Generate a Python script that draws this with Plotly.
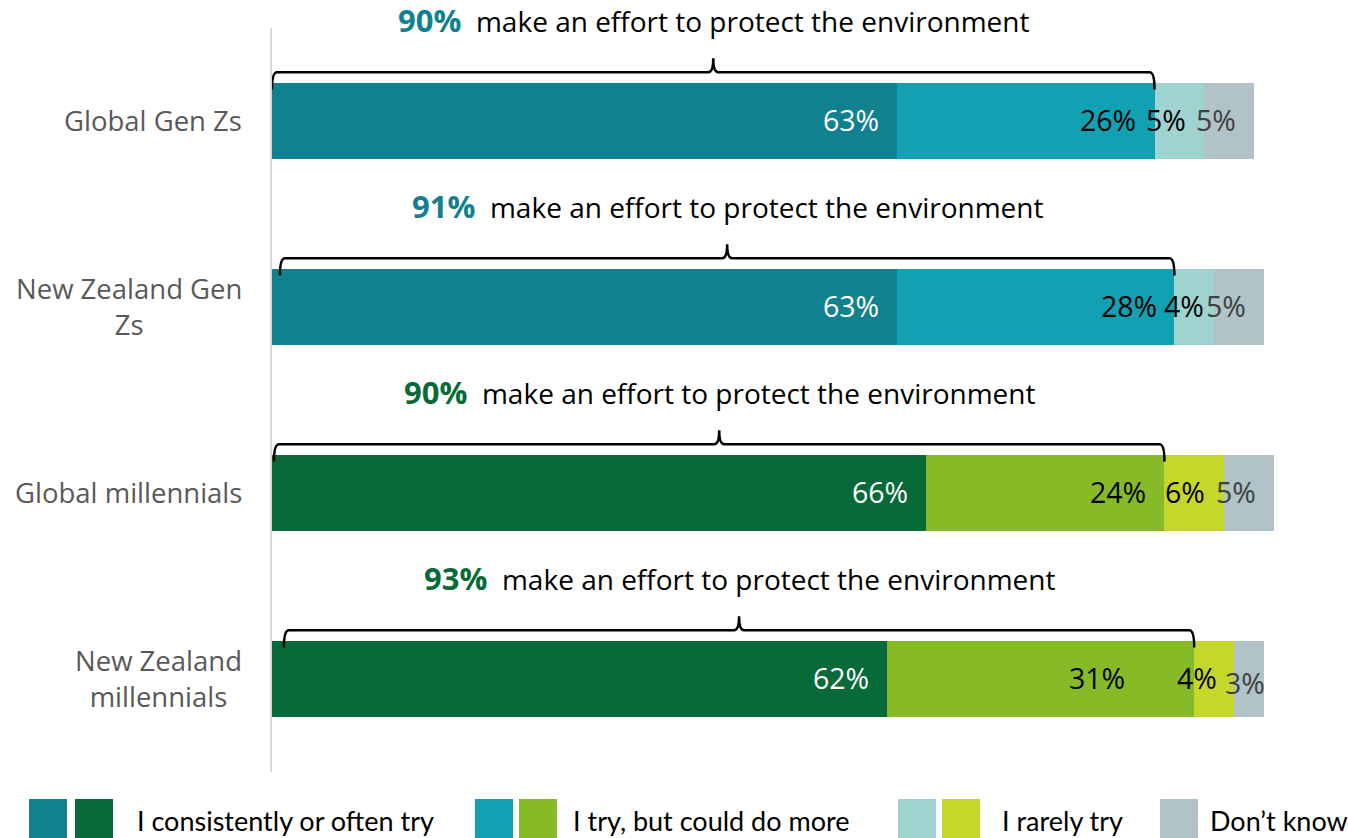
import plotly.graph_objects as go

categories = ["Global Gen Zs", "New Zealand Gen<br>Zs", "Global millennials", "New Zealand<br>millennials"]
consistently = [63, 63, 66, 62]
try_more = [26, 28, 24, 31]
rarely = [5, 4, 6, 4]
dont_know = [5, 5, 5, 3]
effort_totals = [90, 91, 90, 93]
legend_labels = ["I consistently or often try", "I try, but could do more", "I rarely try", "Don\u2019t know"]

# styling
genz_colors = ["#0F818F", "#11A1B2", "#9ED3CF", "#AFC3C8"]
mill_colors = ["#076A38", "#86BB27", "#C5D72B", "#AFC3C8"]
row_is_genz = [True, True, False, False]
label_colors = ["white", "black", "black", "#404040"]
label_xshift = [[-16, -17, -16, -16], [-16, -15, -8, -16], [-16, -16, -17, -16], [-16, -67, -15, 3]]
label_yshift = [[0, 0, 0, 0], [0, 0, 0, 0], [0, 0, 0, 0], [0, 0, 0, -5]]
bracket_start = [0, 0.8, 0.2, 1.2]

W, H = 1348, 838
ML, MR, MT, MB = 272, 10, 28, 66
PW, PH = W - ML - MR, H - MT - MB
XMAX = 107.5

def px2paper_x(px):
    return (px - ML) / PW

def py2paper_y(py):
    return (H - MB - py) / PH

series = [consistently, try_more, rarely, dont_know]
ypos = list(range(len(categories)))

fig = go.Figure()
for j, vals in enumerate(series):
    colors = [(genz_colors if g else mill_colors)[j] for g in row_is_genz]
    fig.add_trace(go.Bar(
        y=ypos, x=vals, orientation="h", width=0.405,
        marker=dict(color=colors, line=dict(width=0)),
        showlegend=False, hoverinfo="x",
    ))

annotations = []
shapes = []
font_main = "Open Sans"
for i in ypos:
    cum = 0
    for j, vals in enumerate(series):
        cum += vals[i]
        annotations.append(dict(
            x=cum, y=i, xref="x", yref="y", text=f"{vals[i]}%", showarrow=False,
            xanchor="right", yanchor="middle", xshift=label_xshift[i][j], yshift=label_yshift[i][j] + 1,
            font=dict(family=font_main, size=28.5, color=label_colors[j]),
        ))
    # category label
    annotations.append(dict(
        x=0, y=i, xref="x domain", yref="y", text=categories[i], showarrow=False,
        xanchor="right", yanchor="middle", align="center", xshift=-28, yshift=1,
        font=dict(family=font_main, size=27.5, color="#595959"),
    ))
    # bracket
    x0 = bracket_start[i]
    x1 = consistently[i] + try_more[i]
    xm = (x0 + x1) / 2
    yb = i - 0.17
    yh = i - 0.262
    yt = i - 0.337
    d = 0.5
    path = (f"M {x0},{yb} Q {x0},{yh} {x0 + d},{yh} L {xm - d},{yh} "
            f"Q {xm},{yh} {xm},{yt} Q {xm},{yh} {xm + d},{yh} "
            f"L {x1 - d},{yh} Q {x1},{yh} {x1},{yb}")
    shapes.append(dict(type="path", xref="x", yref="y", path=path,
                       line=dict(color="black", width=2.5)))
    hc = genz_colors[0] if row_is_genz[i] else mill_colors[0]
    annotations.append(dict(
        x=xm, y=i, xref="x", yref="y", showarrow=False,
        xanchor="center", yanchor="middle", yshift=101,
        text=f"<b><span style='color:{hc};font-size:31px'>{effort_totals[i]}%</span></b>&nbsp; make an effort to protect the environment",
        font=dict(family=font_main, size=28, color="black"),
    ))

# legend (custom paired swatches)
legend_items = [
    ([(29, 67), (75, 113)], [genz_colors[0], mill_colors[0]], 135),
    ([(475, 513), (519, 557)], [genz_colors[1], mill_colors[1]], 571),
    ([(898, 936), (942, 980)], [genz_colors[2], mill_colors[2]], 1000),
    ([(1160, 1198)], [genz_colors[3]], 1208),
]
for k, (boxes, cols, tx) in enumerate(legend_items):
    for (a, b), c in zip(boxes, cols):
        shapes.append(dict(type="rect", xref="paper", yref="paper",
                           x0=px2paper_x(a), x1=px2paper_x(b),
                           y0=py2paper_y(840), y1=py2paper_y(799),
                           fillcolor=c, line=dict(width=0)))
    annotations.append(dict(
        x=px2paper_x(tx), y=py2paper_y(820), xref="paper", yref="paper",
        text=legend_labels[k], showarrow=False, xanchor="left", yanchor="middle",
        font=dict(family="Lato", size=27, color="black"),
    ))

fig.update_layout(
    width=W, height=H, barmode="stack",
    margin=dict(l=ML, r=MR, t=MT, b=MB),
    paper_bgcolor="white", plot_bgcolor="white",
    xaxis=dict(range=[0, XMAX], visible=False, fixedrange=True),
    yaxis=dict(range=[len(categories) - 0.5, -0.5], showticklabels=False, showgrid=False,
               zeroline=False, showline=True, linecolor="#D9D9D9", linewidth=2, ticks=""),
    annotations=annotations, shapes=shapes, bargap=0,
)

fig.write_html("out.html", config={"displayModeBar": False},
               post_script="document.body.style.margin='0';document.body.style.overflow='hidden';")
